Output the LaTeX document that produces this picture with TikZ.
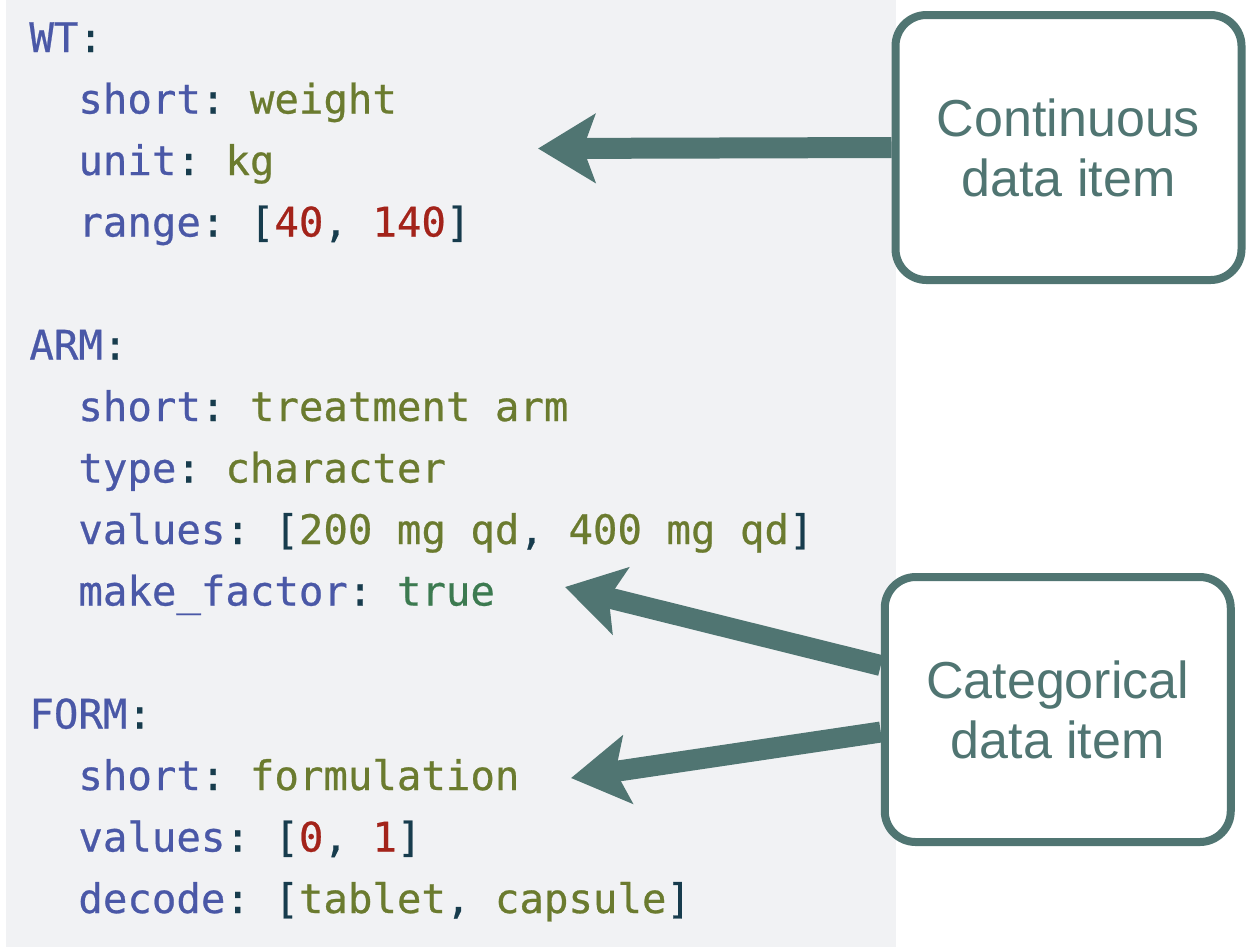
\documentclass[tikz,border=0pt]{standalone}
\usepackage{fontspec}
\setmainfont{Liberation Sans}
\setmonofont{DejaVu Sans Mono}[FakeBold=0.6]
\usetikzlibrary{arrows.meta,calc}

\definecolor{codebg}{HTML}{F1F2F4}
\definecolor{keyblue}{HTML}{4A58A7}
\definecolor{punctdark}{HTML}{173C4D}
\definecolor{strolive}{HTML}{6B7B2F}
\definecolor{numred}{HTML}{A3231A}
\definecolor{boolgreen}{HTML}{3C7A50}
\definecolor{boxteal}{HTML}{507572}

\newcommand{\ykey}[1]{\textcolor{keyblue}{#1}}
\newcommand{\ypun}[1]{\textcolor{punctdark}{#1}}
\newcommand{\ystr}[1]{\textcolor{strolive}{#1}}
\newcommand{\ynum}[1]{\textcolor{numred}{#1}}
\newcommand{\ybool}[1]{\textcolor{boolgreen}{#1}}

\tikzset{
  codeline/.style={anchor=base west,inner sep=0pt,
    font=\fontsize{20.35pt}{30pt}\ttfamily},
  itembox/.style={draw=boxteal,line width=4pt,rounded corners=15.5pt,
    fill=white,minimum width=173pt,minimum height=132.5pt,
    align=center,text=boxteal,font=\fontsize{26pt}{30pt}\selectfont},
  pointer/.style={draw=boxteal,line width=10.5pt,
    -{Stealth[length=28.5pt,width=34pt,inset=6pt]}}
}

\begin{document}
\begin{tikzpicture}[x=0.5pt,y=-0.5pt]

        \useasboundingbox (0,0) rectangle (1256,950);
        \fill[codebg] (6,0) rectangle (896,947);

        % yaml listing
        \begin{scope}[every node/.style={codeline}]
          \node (wt)       at (29,52)    {\ykey{WT}\ypun{:}};
          \node (wtshort)  at (78,113.5) {\ykey{short}\ypun{:} \ystr{weight}};
          \node (wtunit)   at (78,175)   {\ykey{unit}\ypun{:} \ystr{kg}};
          \node (wtrange)  at (78,236.5) {\ykey{range}\ypun{: [}\ynum{40}\ypun{, }\ynum{140}\ypun{]}};

          \node (arm)      at (29,359.5) {\ykey{ARM}\ypun{:}};
          \node (armshort) at (78,421)   {\ykey{short}\ypun{:} \ystr{treatment arm}};
          \node (armtype)  at (78,482.5) {\ykey{type}\ypun{:} \ystr{character}};
          \node (armvals)  at (78,544)   {\ykey{values}\ypun{: [}\ystr{200 mg qd}\ypun{, }\ystr{400 mg qd}\ypun{]}};
          \node (armfact)  at (78,605.5) {\ykey{make\_factor}\ypun{:} \ybool{true}};

          \node (form)      at (29,728.5) {\ykey{FORM}\ypun{:}};
          \node (formshort) at (78,790)   {\ykey{short}\ypun{:} \ystr{formulation}};
          \node (formvals)  at (78,851.5) {\ykey{values}\ypun{: [}\ynum{0}\ypun{, }\ynum{1}\ypun{]}};
          \node (formdec)   at (78,913)   {\ykey{decode}\ypun{: [}\ystr{tablet}\ypun{, }\ystr{capsule}\ypun{]}};
        \end{scope}

        \begin{scope}[every node/.style={itembox}]
          \node (cont)  at (1068.5,147.5) {Continuous\\data item};
          \node (categ) at (1057.75,709.5) {Categorical\\data item};
        \end{scope}

        \coordinate (wt tip)    at (538,148.5);
        \coordinate (arm tip)   at (565,587);
        \coordinate (form tip)  at (571,778);
        \coordinate (arm from)  at ($(categ.west)+(0,-44)$);
        \coordinate (form from) at ($(categ.west)+(0,22.5)$);

        \begin{scope}[every edge/.style={pointer}]
          \path (cont.west) edge (wt tip);
          \path (arm from)  edge (arm tip);
          \path (form from) edge (form tip);
        \end{scope}

      \end{tikzpicture}
\end{document}
